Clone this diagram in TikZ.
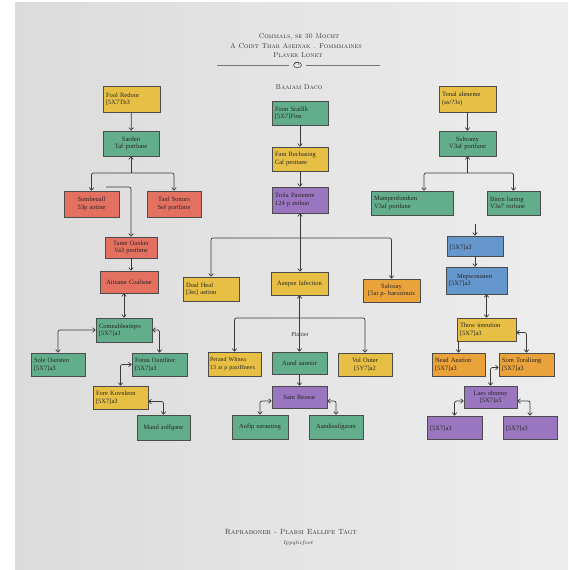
\documentclass[tikz,border=0pt]{standalone}
\usepackage{fontspec}
\usepackage{tikz}
\usetikzlibrary{calc,arrows.meta}
\newfontfamily\cardfont{Liberation Serif}
\definecolor{paper}{HTML}{E4E4E2}
\definecolor{cardyellow}{HTML}{E8BF45}
\definecolor{cardgreen}{HTML}{62AD8C}
\definecolor{cardred}{HTML}{E4705F}
\definecolor{cardpurple}{HTML}{9B76C0}
\definecolor{cardblue}{HTML}{6697CC}
\definecolor{cardorange}{HTML}{EAA23A}
\definecolor{ink}{HTML}{3A3A3A}

\tikzset{
  card/.style={draw=black!70, line width=0.7pt, inner xsep=3pt, inner ysep=2pt,
    text width=50pt, minimum height=24pt, align=left,
    font=\cardfont\fontsize{6.5}{7.5}\selectfont, text=black!85},
  yel/.style={card, fill=cardyellow},
  grn/.style={card, fill=cardgreen},
  rd/.style={card, fill=cardred},
  pur/.style={card, fill=cardpurple},
  blu/.style={card, fill=cardblue},
  org/.style={card, fill=cardorange},
  wire/.style={draw=ink, line width=0.7pt, rounded corners=2pt},
  headline/.style={font=\fontsize{7}{8}\selectfont\scshape, text=black!80},
}

\begin{document}
\begin{tikzpicture}[x=1pt, y=-1pt, >={Straight Barb[length=2.5pt,width=4.5pt]}]
			%%%%% START %%%%%
			\useasboundingbox (0,0) rectangle (568,570);
			\fill[white] (0,0) rectangle (568,570);
			\shade[left color=black!14, right color=black!7] (15,2) rectangle (568,570);
			
			% title block
			\node[headline] (title1) at (299,37) {Commals, se 30 Mocht};
			\node[headline] (title2) at (296,46) {A Coint Thar Aseinak . Fommmaines};
			\node[headline] (title3) at (298,55) {Player Lonet};
			\draw[ink!70, line width=0.5pt] (217,65) -- (289,65);
			\draw[ink!70, line width=0.5pt] (306,65) -- (380,65);
			\draw[ink, line width=0.5pt] (297.5,65) ellipse (4 and 2.8);
			\draw[ink, line width=0.5pt] (294,64) .. controls (296,61) and (300,62) .. (299,65);
			\node[headline] (sub) at (299,87) {Baaiam Daco};
			
			% left column
			\node[yel, text width=51pt, minimum height=26pt] (redoor) at (131.5,99) {Fool Redoor\\ {[}5X7Tb3};
			\node[grn, text width=50pt, minimum height=25pt, align=center] (sarden) at (131,143.5) {Sarden\\ Taf portlune};
			\node[rd, text width=49pt, minimum height=26pt, align=center] (sombe) at (91.5,204) {Sombeuall\\ 53p aotine};
			\node[rd, text width=48pt, minimum height=26pt, align=center] (tanl) at (174,204) {Tanl Sonurs\\ Sef portlime};
			\node[rd, text width=46pt, minimum height=21pt, align=center] (oanker) at (131,247.5) {Tame Oanker\\ Va3 pesthme};
			\node[rd, text width=52pt, minimum height=22pt, align=center] (aituane) at (129,282) {Aituane Coalisne};
			\node[grn, text width=50pt, minimum height=24pt] (comna) at (124,330) {Comnableatiqes\\ {[}5X7]a3};
			\node[grn, text width=48pt, minimum height=23pt] (soleo) at (58,364.5) {Sole Oansten\\ {[}5X7]a3};
			\node[grn, text width=49pt, minimum height=23pt] (fotua) at (159.5,364.5) {Fotua Oantlitec\\ {[}5X7]a3};
			\node[yel, text width=49pt, minimum height=23pt] (kovn) at (120.5,397.5) {Fore Kovnleon\\ {[}5X7]a3};
			\node[grn, text width=47pt, minimum height=25pt, align=center] (mand) at (163.5,427.5) {Mand aolfgane};
			
			\draw[wire,->] (redoor) -- (sarden);
			\coordinate (lbr) at (131,173);
			\draw[wire,<-] (sarden) -- (lbr);
			\draw[wire,->] (lbr) -| (sombe);
			\draw[wire,->] (lbr) -| (tanl);
			\coordinate (lfree) at (106,187);
			\draw[wire,->] (lfree) -| (oanker);
			\draw[wire,->] (oanker.south) -- (oanker.south |- aituane.north);
			\draw[wire,<->] (comna.north |- aituane.south) -- (comna.north);
			\draw[wire,<->] (comna.west) -| (soleo);
			\draw[wire,<->] (comna.east) -| (fotua);
			\draw[wire,<->] (fotua.west) -| (kovn);
			\draw[wire,<->] ([yshift=-4pt]kovn.east) -| (mand);
			
			% middle column
			\node[grn, text width=50pt, minimum height=24pt] (foon) at (300,113) {Foon Sraillh\\ {[}5X7]Fins};
			\node[yel, text width=50pt, minimum height=24pt] (fam) at (300,159) {Fam Rechasing\\ Cal pesttaee};
			\node[pur, text width=50pt, minimum height=26pt] (trola) at (300,200) {Trola Pasiemte\\ 124 p esthoo};
			\node[yel, text width=50pt, minimum height=24pt] (doal) at (211,289) {Doal Heal\\ {[}3et] aetion};
			\node[yel, text width=51pt, minimum height=23pt, align=center] (aanpse) at (299.5,283.5) {Aanpse Iafection};
			\node[org, text width=51pt, minimum height=23pt, align=center] (salco) at (391.5,290.5) {Salcoay\\ {[}5at p- barosinuis};
			\node[yel, inner xsep=2pt, text width=49pt, minimum height=24pt, font=\cardfont\fontsize{6}{7.5}\selectfont] (perand) at (234.5,364) {Perand Wlinea\\ 13 at p paxtHneex};
			\node[grn, text width=49pt, minimum height=22pt, align=center] (aund) at (299.5,363) {Aund aaretor};
			\node[yel, text width=48pt, minimum height=23pt, align=center] (volo) at (365,364.5) {Vol Outer\\ {[}5Y7]a2};
			\node[pur, text width=49pt, minimum height=22pt, align=center] (sain) at (299.5,397) {Sain Reoear};
			\node[grn, text width=50pt, minimum height=24pt, align=center] (aofip) at (260,427) {Aofip earauting};
			\node[grn, text width=48pt, minimum height=24pt, align=center] (aand) at (336,427) {Aandiealigaom};
			\node[font=\cardfont\fontsize{6}{7}\selectfont, text=black!80] (plat) at (300,334) {Plattier};
			
			\draw[wire,->] (foon) -- (fam);
			\draw[wire,->] (fam) -- (trola);
			\coordinate (cbr) at (300,238);
			\draw[wire,<->] (trola.south) -- (trola.south |- aanpse.north);
			\draw[wire,<->] (doal) |- (cbr) -| (salco);
			\coordinate (cbr2) at (300,318);
			\draw[wire,<->] (aanpse.south) -- (aanpse.south |- aund.north);
			\draw[wire,<->] (perand) |- (cbr2) -| (volo);
			\draw[wire,->] (aund) -- (sain);
			\draw[wire,<->] ([yshift=-4pt]sain.west) -| (aofip);
			\draw[wire,<->] ([yshift=-4pt]sain.east) -| (aand);
			
			% right column
			\node[yel, text width=51pt, minimum height=26pt] (tonal) at (467.5,99) {Tonal aleneme\\ (as/?3s)};
			\node[grn, text width=51pt, minimum height=25pt, align=center] (sxhra) at (467.5,143.5) {Sxhramy\\ V3af portlune};
			\node[grn, text width=76pt, minimum height=24pt] (mampe) at (412,203) {Mampenfondum\\ V3af portlune};
			\node[grn, text width=47pt, minimum height=24pt] (biorn) at (513.5,203) {Biorn luning\\ V3a7 rorlune};
			\node[blu, text width=50pt, minimum height=20pt] (blue1) at (475,246) {\\ {[}5X7]a3};
			\node[blu, text width=55pt, minimum height=27pt] (mepwo) at (476.5,280.5) {\hspace*{8pt}Mepwosiaten\\ {[}5X7]a3};
			\node[yel, text width=53pt, minimum height=23pt] (thow) at (486.5,329.5) {Thow inteution\\ {[}5X7]a3};
			\node[org, text width=47pt, minimum height=23pt] (nead) at (458.5,364.5) {Nead Aeation\\ {[}5X7]a3};
			\node[org, text width=49pt, minimum height=23pt] (somt) at (526.5,364.5) {Som Toraliung\\ {[}5X7]a3};
			\node[pur, text width=47pt, minimum height=22pt, align=center] (laes) at (490.5,397) {Laes obnnny\\ {[}5X7]a3};
			\node[pur, text width=49pt, minimum height=23pt] (fl1) at (454.5,427.5) {\\ {[}5X7]a3};
			\node[pur, text width=48pt, minimum height=23pt] (fl2) at (530,427.5) {\\ {[}5X7]a3};
			
			\draw[wire,->] (tonal) -- (sxhra);
			\coordinate (rbr) at (467.5,173);
			\draw[wire,<-] (sxhra) -- (rbr);
			\draw[wire,->] (rbr) -| ([xshift=12pt]mampe.north);
			\draw[wire,->] (rbr) -| (biorn);
			\coordinate (rfree) at (475,224);
			\draw[wire,->] (rfree) -- (blue1);
			\draw[wire,->] (blue1.south) -- (blue1.south |- mepwo.north);
			\draw[wire,<->] (thow.north |- mepwo.south) -- (thow.north);
			\draw[wire,->] (nead.north |- thow.south) -- (nead.north);
			\draw[wire,<->] ([yshift=-3pt]thow.east) -| (somt);
			\draw[wire,<->] ([yshift=-3pt]somt.west) -| (laes);
			\draw[wire,<->] ([yshift=-4pt]laes.west) -| (fl1);
			\draw[wire,<->] ([yshift=-4pt]laes.east) -| (fl2);
			
			% footer
			\node[headline, font=\fontsize{7.5}{8}\selectfont\scshape] (foot1) at (291,532) {Rapraboner - Plarsi Eallipe Tagt};
			\node[font=\fontsize{5.5}{6}\selectfont\itshape, text=black!80] (foot2) at (298,543) {Ippqticfoot};
			
			%%%%% END %%%%%
\end{tikzpicture}
\end{document}
